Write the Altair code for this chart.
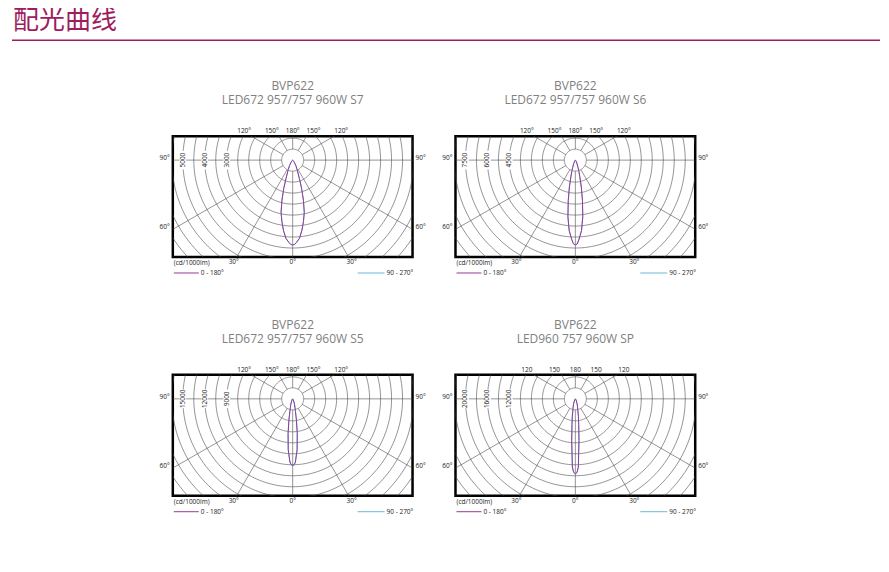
import altair as alt
import pandas as pd
import numpy as np

# ---------------- data ----------------
PAGE_TITLE = "配光曲线"
PANEL_TITLES = [
    ["BVP622", "LED672  957/757 960W S7"],
    ["BVP622", "LED672 957/757 960W S6"],
    ["BVP622", "LED672  957/757 960W S5"],
    ["BVP622", "LED960 757 960W SP"],
]
RING_STEP = [500, 750, 1500, 2000]          # cd/1000lm per grid ring
RING_LABELS = [
    [5000, 4000, 3000],
    [7500, 6000, 4500],
    [15000, 12000, 9000],
    [20000, 16000, 12000],
]
TOP_SUFFIX = ["°", "°", "°", ""]
TOP_ANGLES = [-120, -150, 180, 150, 120]
BOTTOM_ANGLES = [-30, 0, 30]
SIDE_ANGLES = [90, 60]
UNIT_LABEL = "(cd/1000lm)"
LEGEND_LABELS = ["0 - 180°", "90 - 270°"]

GAMMA = [0, 1.25, 2.5, 5, 7.5, 10, 12.5, 15, 17.5, 20, 25, 30, 35, 40, 50, 60, 70, 80, 90]
I_S7 = [3860, 3840, 3760, 3570, 3220, 2830, 2440, 1890, 1350, 890, 480, 290, 150, 70, 20, 5, 0, 0, 0]
I_S6 = [5800, 5720, 5450, 4830, 3890, 2790, 1880, 1180, 820, 540, 260, 140, 70, 30, 10, 0, 0, 0, 0]
I_S5 = [9090, 9000, 8620, 6960, 4800, 2950, 1750, 1200, 900, 620, 330, 160, 80, 30, 10, 0, 0, 0, 0]
I_SP = [13640, 13420, 12450, 7600, 4680, 3200, 2050, 1560, 1200, 860, 450, 220, 100, 40, 10, 0, 0, 0, 0]
C0_180 = [I_S7, I_S6, I_S5, I_SP]
C90_270 = [list(I_S7), list(I_S6), list(I_S5), list(I_SP)]   # hidden under the C0-180 curve

# ---------------- styling / layout ----------------
W, H = 240, 121
PX = 11.0                       # pixels per ring
HW = W / 2 / PX
YT = 24 / PX
YB = -(H - 24) / PX
FONT = "Open Sans"
GRID = "#4d4d4d"
PURPLE = "#953a93"
CYAN = "#6cb8d8"
MAGENTA = "#9e1d5e"
TXT = "#222222"
LEFT_GAP = 122
COL_GAP = 43
ROW_GAP = 118
HEADER_SHIFT = 128

XS = alt.Scale(domain=[-HW, HW], nice=False, zero=False)
YS = alt.Scale(domain=[YB, YT], nice=False, zero=False)


def X(f="x"):
    return alt.X(f"{f}:Q", scale=XS, axis=None)


def Y(f="y"):
    return alt.Y(f"{f}:Q", scale=YS, axis=None)


# grid geometry (shared)
ring_rows = []
for i in range(1, 15):
    for k, a in enumerate(np.arange(0, 361, 2)):
        t = np.radians(a)
        ring_rows.append({"ring": i, "k": k, "x": i * np.sin(t), "y": i * np.cos(t)})
rings_df = pd.DataFrame(ring_rows)

spoke_rows = []
for a in range(0, 360, 30):
    t = np.radians(a)
    spoke_rows.append({"x": np.sin(t), "y": -np.cos(t), "x2": 16 * np.sin(t), "y2": -16 * np.cos(t)})
spokes_df = pd.DataFrame(spoke_rows)


def curve_df(vals, step):
    rows = []
    n = 0
    for g, v in list(zip(GAMMA, vals))[::-1]:
        t = np.radians(g)
        rows.append({"o": n, "x": -v / step * np.sin(t), "y": -v / step * np.cos(t)})
        n += 1
    for g, v in list(zip(GAMMA, vals))[1:]:
        t = np.radians(g)
        rows.append({"o": n, "x": v / step * np.sin(t), "y": -v / step * np.cos(t)})
        n += 1
    return pd.DataFrame(rows)


def small_text(**kw):
    base = dict(fontSize=6.5, font=FONT, color=TXT)
    base.update(kw)
    return base


def panel(idx):
    step = RING_STEP[idx]
    suf = TOP_SUFFIX[idx]

    rings = alt.Chart(rings_df).mark_line(clip=True, stroke=GRID, strokeWidth=0.6).encode(
        x=X(), y=Y(), detail="ring:N", order="k:Q")
    spokes = alt.Chart(spokes_df).mark_rule(clip=True, stroke=GRID, strokeWidth=0.6).encode(
        x=X(), y=Y(), x2="x2:Q", y2="y2:Q")

    lab = pd.DataFrame({"v": RING_LABELS[idx]})
    lab["x"] = -lab["v"] / step
    lab["y"] = 0.0
    lab["xa"] = lab["x"] - 0.3
    lab["xb"] = lab["x"] + 0.3
    lab["ya"] = -0.85
    lab["yb"] = 0.85
    boxes = alt.Chart(lab).mark_rect(fill="white").encode(
        x=X("xa"), x2="xb:Q", y=Y("ya"), y2="yb:Q")
    ring_text = alt.Chart(lab).mark_text(**small_text(angle=270, baseline="middle", align="center")).encode(
        x=X(), y=Y(), text="v:N")

    c90 = alt.Chart(curve_df(C90_270[idx], step)).mark_line(
        clip=True, stroke=CYAN, strokeWidth=1).encode(x=X(), y=Y(), order="o:Q")
    c0 = alt.Chart(curve_df(C0_180[idx], step)).mark_line(
        clip=True, stroke=PURPLE, strokeWidth=1).encode(x=X(), y=Y(), order="o:Q")

    # degree labels
    top = []
    for g in TOP_ANGLES:
        t = np.radians(g)
        if g == 180:
            xx = 0.0
        else:
            xx = YT / (-np.cos(t)) * np.sin(t) + np.sign(np.sin(t)) * 7 / PX
        top.append({"x": xx, "y": YT, "t": f"{abs(g)}{suf}"})
    top_text = alt.Chart(pd.DataFrame(top)).mark_text(**small_text(baseline="bottom", dy=-2)).encode(
        x=X(), y=Y(), text="t:N")

    bot = []
    for g in BOTTOM_ANGLES:
        t = np.radians(g)
        xx = (-YB) * np.tan(t) + np.sign(np.sin(t)) * 3 / PX
        bot.append({"x": xx, "y": YB, "t": f"{abs(g)}°"})
    bot_text = alt.Chart(pd.DataFrame(bot)).mark_text(**small_text(baseline="top", dy=2)).encode(
        x=X(), y=Y(), text="t:N")

    side = []
    for g in SIDE_ANGLES:
        t = np.radians(g)
        side.append({"x": HW, "y": -HW / np.tan(t) if g != 90 else 0.0, "t": f"{g}°"})
    sdf = pd.DataFrame(side)
    sdf_l = sdf.copy()
    sdf_l["x"] = -HW
    left_text = alt.Chart(sdf_l).mark_text(**small_text(align="right", baseline="middle", dx=-3, dy=-2)).encode(
        x=X(), y=Y(), text="t:N")
    right_text = alt.Chart(sdf).mark_text(**small_text(align="left", baseline="middle", dx=3, dy=-2)).encode(
        x=X(), y=Y(), text="t:N")

    one = pd.DataFrame({"u": [UNIT_LABEL], "a": [LEGEND_LABELS[0]], "b": [LEGEND_LABELS[1]]})
    unit = alt.Chart(one).mark_text(**small_text(align="left", baseline="middle")).encode(
        x=alt.value(1), y=alt.value(127), text="u:N")
    leg_a_line = alt.Chart(one).mark_rule(stroke=PURPLE, strokeWidth=1).encode(
        x=alt.value(1), x2=alt.value(26), y=alt.value(137))
    leg_b_line = alt.Chart(one).mark_rule(stroke=CYAN, strokeWidth=1).encode(
        x=alt.value(185), x2=alt.value(212), y=alt.value(137))
    leg_a = alt.Chart(one).mark_text(**small_text(align="left", baseline="middle")).encode(
        x=alt.value(28), y=alt.value(137), text="a:N")
    leg_b = alt.Chart(one).mark_text(**small_text(align="left", baseline="middle")).encode(
        x=alt.value(214), y=alt.value(137), text="b:N")

    return alt.layer(
        rings, spokes, boxes, ring_text, c90, c0, top_text, bot_text, left_text, right_text,
        unit, leg_a_line, leg_b_line, leg_a, leg_b,
    ).properties(
        width=W, height=H,
        view=alt.ViewBackground(stroke="black", strokeWidth=2.5, fill="white"),
        title=alt.Title(PANEL_TITLES[idx], anchor="middle", font=FONT, fontSize=12,
                        fontWeight="normal", color="#808080", lineHeight=14,
                        frame="group", offset=21),
    )


hdr = pd.DataFrame({"t": [PAGE_TITLE]})

# first grid cell: empty spacer that also carries the page header above the grid
header_cell = alt.layer(
    alt.Chart(hdr).mark_text(font="Noto Sans CJK SC", fontSize=26, color=MAGENTA,
                             align="left", baseline="top").encode(
        x=alt.value(5), y=alt.value(-HEADER_SHIFT), text="t:N"),
    alt.Chart(hdr).mark_rule(stroke=MAGENTA, strokeWidth=1.5).encode(
        x=alt.value(4), x2=alt.value(873), y=alt.value(32 - HEADER_SHIFT)),
).properties(width=LEFT_GAP, height=H)

spacer = alt.Chart(hdr).mark_point(opacity=0).properties(width=LEFT_GAP, height=H)

chart = alt.concat(
    header_cell, panel(0), panel(1),
    spacer, panel(2), panel(3),
    columns=3,
    spacing=alt.RowColnumber(row=ROW_GAP, column=COL_GAP),
    bounds="flush",
).properties(padding=0).configure_view(strokeWidth=0)

chart.save("out.html", embed_options={"renderer": "svg", "actions": False})
